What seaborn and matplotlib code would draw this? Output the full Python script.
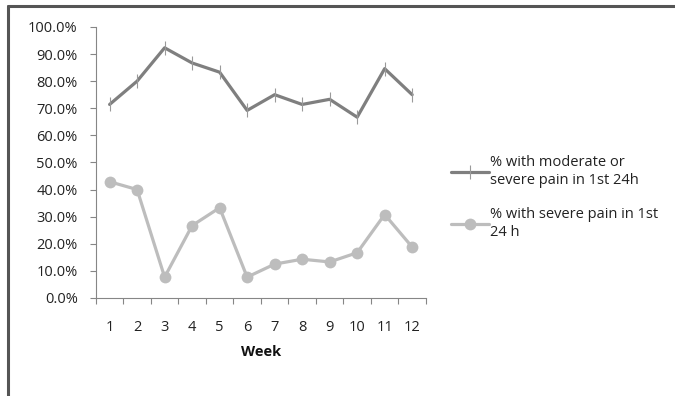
import matplotlib
matplotlib.use("Agg")
import matplotlib.pyplot as plt
import matplotlib.lines as mlines
import seaborn as sns
import pandas as pd
from matplotlib.ticker import FuncFormatter, FixedLocator

# data
weeks = list(range(1, 13))
moderate_or_severe = [71.4, 80.0, 92.3, 86.7, 83.3, 69.2, 75.0, 71.4, 73.3, 66.7, 84.6, 75.0]
severe = [42.9, 40.0, 7.7, 26.7, 33.3, 7.7, 12.5, 14.3, 13.3, 16.7, 30.8, 18.8]
label_mod = "% with moderate or\nsevere pain in 1st 24h"
label_sev = "% with severe pain in 1st\n24 h"

df = pd.DataFrame({"Week": weeks, "mod": moderate_or_severe, "sev": severe})

sns.set_style("white")
plt.rcParams['font.family'] = ['Open Sans', 'DejaVu Sans']

fig = plt.figure(figsize=(6.75, 3.96), dpi=100)
ax = fig.add_axes([0.142, 0.2475, 0.489, 0.6845])

c_mod = "#7f7f7f"
c_sev = "#bdbdbd"
sns.lineplot(data=df, x="Week", y="mod", ax=ax, color=c_mod, lw=2.3,
             marker="|", markersize=10, markeredgewidth=0.8, markeredgecolor="#9a9a9a",
             label=label_mod)
sns.lineplot(data=df, x="Week", y="sev", ax=ax, color=c_sev, lw=2.3,
             marker="o", markersize=8.5, markeredgewidth=0, label=label_sev)

ax.set_xlim(0.5, 12.5)
ax.set_ylim(0, 100)
ax.set_yticks(range(0, 101, 10))
ax.yaxis.set_major_formatter(FuncFormatter(lambda v, p: f"{v:.1f}%"))

# category axis: ticks between categories, labels at centres
ax.xaxis.set_major_locator(FixedLocator([w + 0.5 for w in [0] + weeks]))
ax.xaxis.set_major_formatter(FuncFormatter(lambda v, p: ""))
ax.xaxis.set_minor_locator(FixedLocator(weeks))
ax.xaxis.set_minor_formatter(FuncFormatter(lambda v, p: f"{int(round(v))}"))
ax.tick_params(axis="x", which="major", direction="out", length=4, width=0.8, color="#868686", bottom=True)
ax.tick_params(axis="x", which="minor", length=0, labelsize=10.5, pad=16, labelcolor="#222222")
ax.tick_params(axis="y", direction="out", length=4, width=0.8, color="#868686", left=True,
               labelsize=10.5, pad=9, labelcolor="#222222")

for s in ["top", "right"]:
    ax.spines[s].set_visible(False)
for s in ["left", "bottom"]:
    ax.spines[s].set_color("#868686")
    ax.spines[s].set_linewidth(0.8)

ax.set_ylabel("")
ax.set_xlabel("Week", fontsize=10.5, fontweight="bold", labelpad=7, color="#111111")

leg = ax.legend(loc="center left", bbox_to_anchor=(1.035, 0.37), frameon=False, fontsize=10.5,
                handlelength=2.6, handletextpad=0.1, labelspacing=1.3, labelcolor="#222222")
for t in leg.get_texts():
    t.set_linespacing(1.3)

# frame on top and left edges of the picture
fig.add_artist(mlines.Line2D([0.012, 1.0], [0.985, 0.985], color="#555555", lw=2.2, transform=fig.transFigure))
fig.add_artist(mlines.Line2D([0.012, 0.012], [0.0, 0.985], color="#555555", lw=2.2, transform=fig.transFigure))

fig.savefig("out.png", dpi=100)
